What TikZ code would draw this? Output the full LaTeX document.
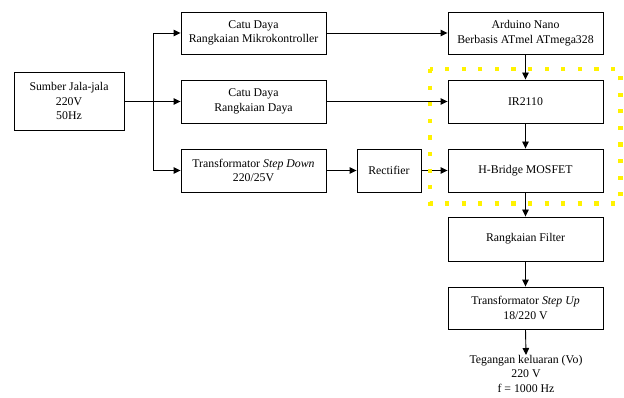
\documentclass[tikz,border=0pt]{standalone}
\usepackage{fontspec}
\setmainfont{Liberation Serif}
\usetikzlibrary{arrows.meta}
\begin{document}
\begin{tikzpicture}[x=1pt,y=-1pt,
  box/.style={draw, line width=0.9pt, align=center, inner sep=0pt,
    font=\fontsize{11.8}{14.5}\selectfont},
  arr/.style={line width=0.9pt, -{Triangle[length=7pt,width=6.5pt]}},
  hl/.style={draw=yellow, line width=4.2pt, dash pattern=on 4.2pt off 12.4pt}]
\useasboundingbox (0,0) rectangle (624,398);
\node[box, minimum width=110pt, minimum height=58pt] (sumber) at (69,101) {Sumber Jala-jala\\220V\\50Hz};
\node[box, minimum width=145pt, minimum height=42pt] (cd1) at (253.5,33) {Catu Daya\\Rangkaian Mikrokontroller};
\node[box, minimum width=145pt, minimum height=43pt] (cd2) at (253.5,101.5) {Catu Daya\\Rangkaian Daya};
\node[box, minimum width=145pt, minimum height=43pt] (tsd) at (253.5,170.5) {Transformator \textit{Step Down}\\220/25V};
\node[box, minimum width=64pt, minimum height=43pt] (rect) at (389,170.5) {Rectifier};
\node[box, minimum width=155pt, minimum height=42pt] (ard) at (525.5,33) {Arduino Nano\\Berbasis ATmel ATmega328};
\node[box, minimum width=155pt, minimum height=43pt] (ir) at (525.5,101.5) {IR2110};
\node[box, minimum width=155pt, minimum height=43pt] (hb) at (525.5,170.5) {H-Bridge MOSFET};
\node[box, minimum width=155pt, minimum height=44pt] (filt) at (525.5,239) {Rangkaian Filter};
\node[box, minimum width=155pt, minimum height=42pt] (tsu) at (525.5,308) {Transformator \textit{Step Up}\\18/220 V};
\node[align=center, anchor=north, inner sep=0pt, font=\fontsize{11.8}{14.5}\selectfont] (out) at (526,355) {Tegangan keluaran (Vo)\\220 V\\f = 1000 Hz};
\coordinate (j) at (153,101.5);
\draw[arr] (sumber.east |- j) -- (cd2.west);
\draw[arr] (j) |- (cd1.west);
\draw[arr] (j) |- (tsd.west);
\draw[arr] (cd1) -- (ard);
\draw[arr] (cd2) -- (ir);
\draw[arr] (tsd) -- (rect);
\draw[arr] (rect) -- (hb);
\draw[arr] (ard) -- (ir);
\draw[arr] (ir) -- (hb);
\draw[arr] (hb) -- (filt);
\draw[arr] (filt) -- (tsu);
\draw[arr] (tsu.south) -- (out.north);
\draw[hl] (430,69) rectangle (620.5,203.5);
\end{tikzpicture}
\end{document}
